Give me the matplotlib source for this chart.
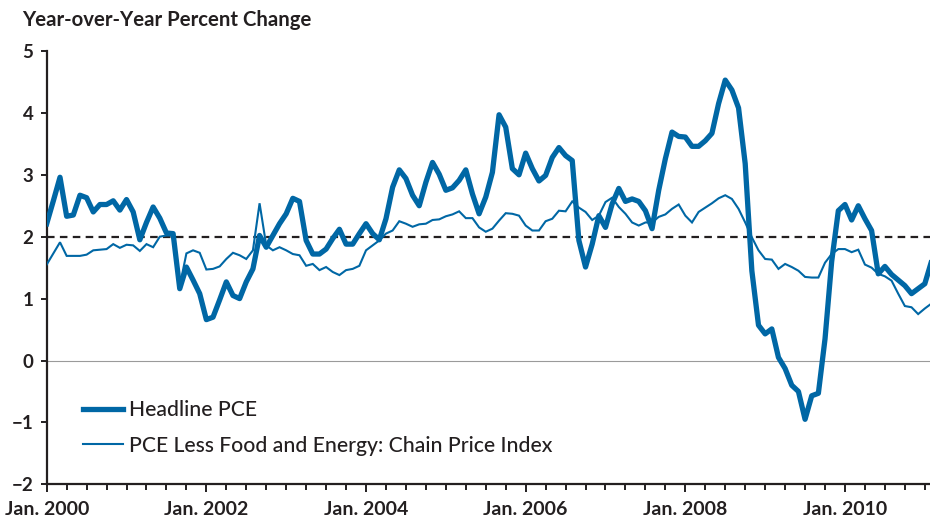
import numpy as np
import matplotlib
matplotlib.use("Agg")
import matplotlib.pyplot as plt
from matplotlib.ticker import FixedLocator

# ---- data (monthly, Jan 2000 onward), year-over-year % change ----
start_year = 2000
headline_pce = [
    2.21, 2.58, 2.96, 2.33, 2.35, 2.67, 2.63, 2.40, 2.52, 2.52, 2.58, 2.43,
    2.60, 2.40, 1.95, 2.23, 2.48, 2.30, 2.06, 2.05, 1.16, 1.51, 1.30, 1.08,
    0.66, 0.70, 0.98, 1.27, 1.05, 1.00, 1.27, 1.48, 2.02, 1.83, 2.02, 2.21,
    2.37, 2.62, 2.57, 1.94, 1.72, 1.72, 1.80, 1.97, 2.12, 1.88, 1.88, 2.05,
    2.21, 2.05, 1.95, 2.29, 2.80, 3.08, 2.94, 2.67, 2.50, 2.88, 3.20, 3.01,
    2.75, 2.79, 2.91, 3.08, 2.69, 2.37, 2.64, 3.04, 3.97, 3.77, 3.10, 3.00,
    3.35, 3.10, 2.90, 2.99, 3.28, 3.44, 3.31, 3.23, 1.94, 1.51, 1.88, 2.34,
    2.15, 2.53, 2.78, 2.57, 2.61, 2.57, 2.42, 2.13, 2.75, 3.26, 3.69, 3.62,
    3.61, 3.46, 3.46, 3.55, 3.67, 4.15, 4.53, 4.37, 4.08, 3.18, 1.45, 0.57,
    0.43, 0.51, 0.05, -0.13, -0.40, -0.50, -0.95, -0.57, -0.53, 0.35, 1.60, 2.42,
    2.52, 2.27, 2.50, 2.29, 2.10, 1.40, 1.52, 1.39, 1.30, 1.21, 1.08, 1.16,
    1.24, 1.60,
]
core_pce = [
    1.55, 1.73, 1.91, 1.69, 1.69, 1.69, 1.71, 1.78, 1.79, 1.80, 1.88, 1.82,
    1.87, 1.86, 1.77, 1.88, 1.83, 2.00, 2.02, 2.02, 1.20, 1.73, 1.78, 1.74,
    1.47, 1.48, 1.52, 1.64, 1.74, 1.70, 1.64, 1.78, 2.54, 1.86, 1.78, 1.83,
    1.78, 1.72, 1.70, 1.53, 1.56, 1.46, 1.51, 1.43, 1.38, 1.46, 1.48, 1.53,
    1.78, 1.86, 1.94, 2.05, 2.10, 2.25, 2.21, 2.16, 2.20, 2.21, 2.27, 2.28,
    2.33, 2.36, 2.41, 2.30, 2.30, 2.15, 2.08, 2.13, 2.26, 2.38, 2.37, 2.34,
    2.18, 2.10, 2.10, 2.25, 2.29, 2.42, 2.41, 2.57, 2.47, 2.40, 2.27, 2.34,
    2.56, 2.63, 2.48, 2.37, 2.23, 2.18, 2.23, 2.23, 2.32, 2.36, 2.45, 2.52,
    2.34, 2.23, 2.40, 2.47, 2.54, 2.62, 2.67, 2.61, 2.45, 2.23, 1.99, 1.78,
    1.64, 1.63, 1.48, 1.56, 1.51, 1.45, 1.35, 1.34, 1.34, 1.58, 1.72, 1.80,
    1.80, 1.75, 1.79, 1.55, 1.50, 1.40, 1.36, 1.29, 1.08, 0.88, 0.86, 0.75,
    0.84, 0.92,
]
target_rate = 2.0
series_labels = ["Headline PCE", "PCE Less Food and Energy: Chain Price Index"]
tick_years = [2000, 2002, 2004, 2006, 2008, 2010]
y_ticks = [-2, -1, 0, 1, 2, 3, 4, 5]
title_text = "Year-over-Year Percent Change"

# ---- style ----
BLUE = "#0067a5"
INK = "#231f20"
plt.rcParams["font.family"] = ["Lato", "DejaVu Sans"]

W, H = 930, 523
fig = plt.figure(figsize=(W / 100, H / 100), dpi=100)
left_px, right_px, top_px, bot_px = 46.7, 930, 51, 484.3
ax = fig.add_axes([left_px / W, 1 - bot_px / H,
                   (right_px - left_px) / W, (bot_px - top_px) / H])

months = np.arange(len(headline_pce))
ax.axhline(0, color="#9a9a9a", lw=0.8, zorder=1)
ax.axhline(target_rate, color=INK, lw=1.6, ls=(0, (3.4, 2.4)), zorder=2)
ax.plot(months, core_pce, color=BLUE, lw=1.5, zorder=3,
        solid_joinstyle="miter", label=series_labels[1])
ax.plot(months, headline_pce, color=BLUE, lw=3.8, zorder=4,
        solid_joinstyle="round", label=series_labels[0])

ax.set_xlim(0, 132.78)
ax.set_ylim(-2, 5)

for s in ["top", "right"]:
    ax.spines[s].set_visible(False)
for s in ["left", "bottom"]:
    ax.spines[s].set_color(INK)
    ax.spines[s].set_linewidth(1.6)

major_pos = [(y - start_year) * 12 for y in tick_years]
ax.xaxis.set_major_locator(FixedLocator(major_pos))
ax.set_xticklabels([f"Jan. {y}" for y in tick_years])
ax.xaxis.set_minor_locator(FixedLocator(np.arange(0, 133, 3)))
ax.set_yticks(y_ticks)
ax.set_yticklabels([("\u2212" + str(-v)) if v < 0 else str(v) for v in y_ticks])

ax.tick_params(axis="x", which="major", length=6, width=1.4, color=INK,
               pad=6, labelsize=14, labelcolor=INK)
ax.tick_params(axis="x", which="minor", length=4.5, width=1.4, color=INK)
ax.tick_params(axis="y", length=4.5, width=1.4, color=INK, pad=5,
               labelsize=13.5, labelcolor=INK)
for lab in ax.get_xticklabels() + ax.get_yticklabels():
    lab.set_fontweight("bold")

fig.text(22 / W, 1 - 26 / H, title_text, fontsize=14.7, fontweight="bold",
         color=INK, ha="left", va="baseline")

handles, labels = ax.get_legend_handles_labels()
leg = ax.legend(handles[::-1], labels[::-1], loc="upper left",
                bbox_to_anchor=(83 / W, 1 - 400.5 / H),
                bbox_transform=fig.transFigure, frameon=False,
                fontsize=15.2, handlelength=1.9, handletextpad=0.3,
                labelspacing=0.72, borderpad=0, borderaxespad=0)
for t in leg.get_texts():
    t.set_color(INK)
    t.set_fontweight("medium")

fig.savefig("out.png", dpi=100)
